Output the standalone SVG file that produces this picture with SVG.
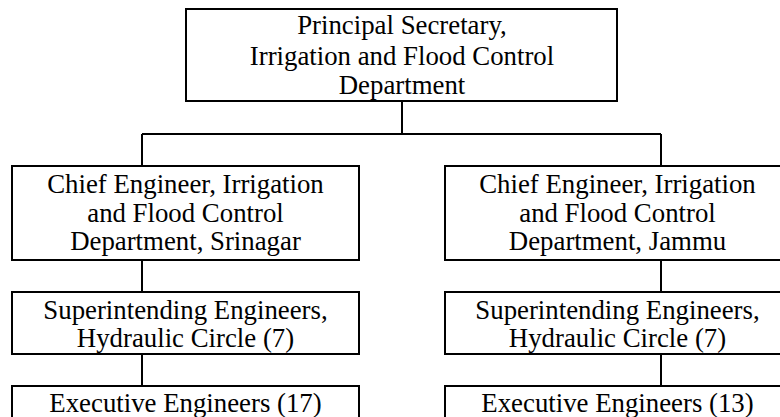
<svg xmlns="http://www.w3.org/2000/svg" width="780" height="417" viewBox="0 0 780 417">
<style>
.box{fill:#fff;stroke:#000;stroke-width:2}
.c{fill:none;stroke:#000;stroke-width:2}
text{font-family:"Liberation Serif","Times New Roman",Times,serif;font-size:26.8px;fill:#000;text-anchor:middle}
</style>
<rect x="0" y="0" width="780" height="417" fill="#fff"/>
<g id="connectors">
<path class="c" d="M402 101V134M142 134H661M142 134V166M661 134V166"/>
<path class="c" d="M142 260V292M142 354V386M661 260V292M661 354V386"/>
</g>
<g id="principal">
<rect class="box" x="186" y="9" width="431" height="92"/>
<text x="402" y="34">Principal Secretary,</text>
<text x="402" y="65">Irrigation and Flood Control</text>
<text x="402" y="94">Department</text>
</g>
<g id="ce-srinagar">
<rect class="box" x="12" y="166" width="347" height="94"/>
<text x="185.5" y="193">Chief Engineer, Irrigation</text>
<text x="185.5" y="222">and Flood Control</text>
<text x="185.5" y="250">Department, Srinagar</text>
</g>
<g id="se-srinagar">
<rect class="box" x="12" y="292" width="347" height="62"/>
<text x="185.5" y="319">Superintending Engineers,</text>
<text x="185.5" y="347">Hydraulic Circle (7)</text>
</g>
<g id="ee-srinagar">
<rect class="box" x="12" y="386" width="347" height="40"/>
<text x="185.5" y="412">Executive Engineers (17)</text>
</g>
<g id="ce-jammu">
<rect class="box" x="445" y="166" width="345" height="94"/>
<text x="617.5" y="193">Chief Engineer, Irrigation</text>
<text x="617.5" y="222">and Flood Control</text>
<text x="617.5" y="250">Department, Jammu</text>
</g>
<g id="se-jammu">
<rect class="box" x="445" y="292" width="345" height="62"/>
<text x="617.5" y="319">Superintending Engineers,</text>
<text x="617.5" y="347">Hydraulic Circle (7)</text>
</g>
<g id="ee-jammu">
<rect class="box" x="445" y="386" width="345" height="40"/>
<text x="617.5" y="412">Executive Engineers (13)</text>
</g>
</svg>
